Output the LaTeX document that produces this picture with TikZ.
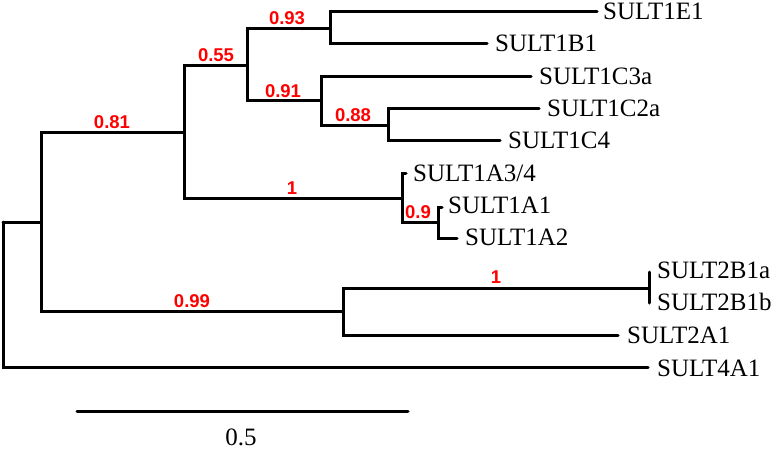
\documentclass[tikz,border=0pt]{standalone}
\usepackage{fontspec}
\setmainfont{Liberation Serif}
\newfontfamily\supfont{Liberation Sans}
\begin{document}
\begin{tikzpicture}[x=1pt,y=-1pt,
  branch/.style={line width=3pt,line cap=round,line join=miter,black},
  taxon/.style={anchor=base west,inner sep=0pt,font=\fontsize{25}{25}\selectfont},
  support/.style={anchor=base,inner sep=0pt,text=red,font=\supfont\bfseries\fontsize{18.5}{18.5}\selectfont},
  scalelabel/.style={anchor=base,inner sep=0pt,font=\fontsize{25}{25}\selectfont}]
\useasboundingbox (0,0) rectangle (778,450);
% internal nodes
\coordinate (r) at (3,222);
\coordinate (A) at (41,222);
\coordinate (B) at (184,132);
\coordinate (C) at (247,65);
\coordinate (D) at (330,28);
\coordinate (E) at (321,100);
\coordinate (F) at (388,125);
\coordinate (G) at (402,198);
\coordinate (H) at (438,222);
\coordinate (I) at (343,311);
\coordinate (J) at (649,288);
% tips
\coordinate (e1E1) at (597,11);
\coordinate (e1B1) at (487,43);
\coordinate (e1C3a) at (531,76);
\coordinate (e1C2a) at (539,108);
\coordinate (e1C4) at (500,140);
\coordinate (e1A34) at (406,173);
\coordinate (e1A1) at (442,207);
\coordinate (e1A2) at (457,238);
\coordinate (e2B1a) at (649,272);
\coordinate (e2B1b) at (649,303);
\coordinate (e2A1) at (618,335);
\coordinate (e4A1) at (648,367);
% branches
\draw[branch] (r) -- (A);
\draw[branch] (r) |- (e4A1);
\draw[branch] (A) |- (B);
\draw[branch] (A) |- (I);
\draw[branch] (B) |- (C);
\draw[branch] (B) |- (G);
\draw[branch] (C) |- (D);
\draw[branch] (C) |- (E);
\draw[branch] (D) |- (e1E1);
\draw[branch] (D) |- (e1B1);
\draw[branch] (E) |- (e1C3a);
\draw[branch] (E) |- (F);
\draw[branch] (F) |- (e1C2a);
\draw[branch] (F) |- (e1C4);
\draw[branch] (G) |- (e1A34);
\draw[branch] (G) |- (H);
\draw[branch] (H) |- (e1A1);
\draw[branch] (H) |- (e1A2);
\draw[branch] (I) |- (J);
\draw[branch] (I) |- (e2A1);
\draw[branch] (e2B1a) -- (e2B1b);
% taxon labels
\node[taxon] (l1E1) at (603,19) {SULT1E1};
\node[taxon] (l1B1) at (495,51) {SULT1B1};
\node[taxon] (l1C3a) at (539,84) {SULT1C3a};
\node[taxon] (l1C2a) at (547,116) {SULT1C2a};
\node[taxon] (l1C4) at (508,148) {SULT1C4};
\node[taxon] (l1A34) at (413,181) {SULT1A3/4};
\node[taxon] (l1A1) at (448,213) {SULT1A1};
\node[taxon] (l1A2) at (465,245) {SULT1A2};
\node[taxon] (l2B1a) at (657,278) {SULT2B1a};
\node[taxon] (l2B1b) at (657,310) {SULT2B1b};
\node[taxon] (l2A1) at (627,343) {SULT2A1};
\node[taxon] (l4A1) at (657,376) {SULT4A1};
% support values
\node[support] (s093) at (287,24) {0.93};
\node[support] (s055) at (216,61) {0.55};
\node[support] (s091) at (283,97) {0.91};
\node[support] (s088) at (353,121) {0.88};
\node[support] (s081) at (112,128) {0.81};
\node[support] (s1a) at (292,194) {1};
\node[support] (s09) at (418,218) {0.9};
\node[support] (s099) at (192,307) {0.99};
\node[support] (s1b) at (496,283) {1};
% scale bar
\coordinate (sb1) at (77,411);
\coordinate (sb2) at (408,411);
\draw[branch] (sb1) -- (sb2);
\node[scalelabel] (sbl) at (241,445) {0.5};
\end{tikzpicture}
\end{document}
